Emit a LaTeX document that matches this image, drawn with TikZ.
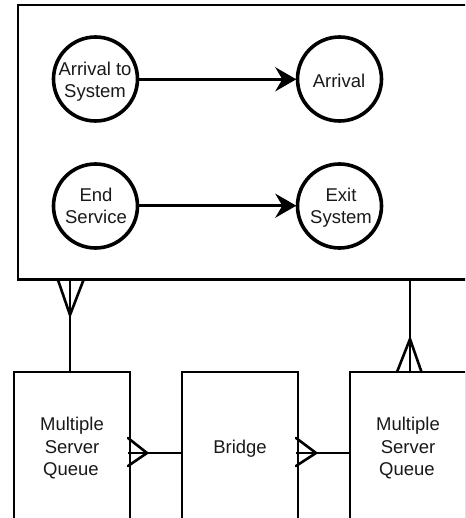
\documentclass[tikz,border=0pt]{standalone}
\usepackage{fontspec}
\setmainfont{Liberation Sans}
\usetikzlibrary{arrows.meta}
\tikzset{
  px/.style={x=1pt,y=-1pt},
  frame/.style={draw=black,line width=2.6pt,fill=white,inner sep=0pt,outer sep=0pt},
  bigbox/.style={frame,minimum width=500pt,minimum height=274.5pt,anchor=north west},
  entity/.style={frame,line width=2.2pt,minimum width=116pt,minimum height=300pt,anchor=north west},
  event/.style={circle,draw=black,line width=3.6pt,fill=white,minimum size=84pt,inner sep=0pt,outer sep=1.2pt},
  lbl/.style={font=\fontsize{18.5pt}{22pt}\selectfont,text=black!90,inner sep=0pt,anchor=base},
  flow/.style={line width=2.8pt,-{Stealth[length=21pt,width=24pt,inset=7pt]}},
  link/.style={line width=2.2pt},
  foot/.style={line width=2.6pt,line cap=round}
}
\begin{document}
\begin{tikzpicture}[px]
\useasboundingbox (0,0) rectangle (465,518);
\clip (0,0) rectangle (465,518);
\node[bigbox] (sys) at (18,5) {};
\node[entity] (q1) at (14,372) {};
\node[entity] (br) at (182,372) {};
\node[entity] (q2) at (350,372) {};
\node[event] (a1) at (95.5,79) {};
\node[event] (a2) at (339.5,79) {};
\node[event] (e1) at (95.5,206) {};
\node[event] (e2) at (339.5,206) {};
% labels
\node[lbl] (ta1) at (95,76) {Arrival to};
\node[lbl] (ta2) at (95,98) {System};
\node[lbl] (tb) at (339,88) {Arrival};
\node[lbl] (tc1) at (96,202) {End};
\node[lbl] (tc2) at (96,224) {Service};
\node[lbl] (td1) at (341,202) {Exit};
\node[lbl] (td2) at (341,224) {System};
\node[lbl] (tq1) at (72,430) {Multiple};
\node[lbl] (tq2) at (72,453) {Server};
\node[lbl] (tq3) at (71,475) {Queue};
\node[lbl] (tbr) at (240,453) {Bridge};
\node[lbl] (tr1) at (408,430) {Multiple};
\node[lbl] (tr2) at (408,453) {Server};
\node[lbl] (tr3) at (407,475) {Queue};
% flows
\coordinate (f1s) at (138.5,79.3);
\coordinate (f2s) at (138.5,205.7);
\draw[flow] (f1s) -- (a2.west |- f1s);
\draw[flow] (f2s) -- (e2.west |- f2s);
% connectors with crow's feet
\coordinate (c1) at (70,315);
\coordinate (c2) at (410,339);
\coordinate (c3) at (147,453);
\coordinate (c4) at (316,453);
\draw[link] (c1 |- sys.south) -- (c1 |- q1.north);
\draw[foot] (58,280) -- (c1) -- (83.5,280);
\draw[link] (c2 |- sys.south) -- (c2 |- q2.north);
\draw[foot] (397,372) -- (c2) -- (421.5,372);
\draw[link] (128,453) -- (c3) -- (c3 -| br.west);
\draw[foot] (128,438) -- (c3) -- (128,466);
\draw[link] (296,453) -- (c4) -- (c4 -| q2.west);
\draw[foot] (296,438) -- (c4) -- (296,466);
\end{tikzpicture}
\end{document}
